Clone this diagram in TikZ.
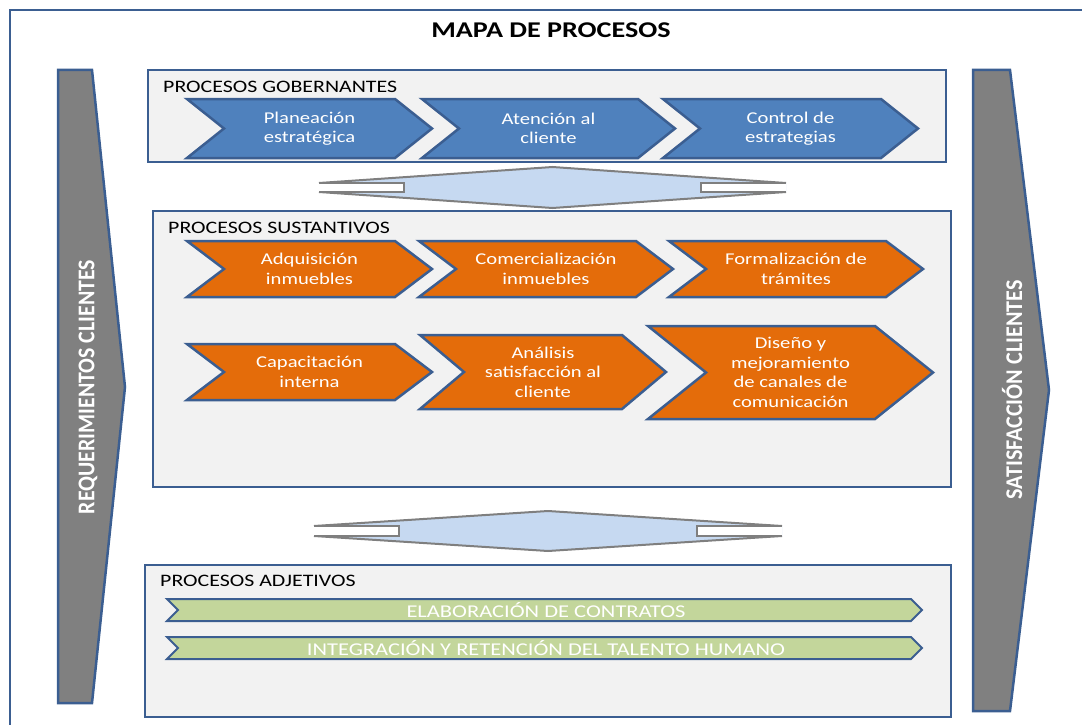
\documentclass[tikz,border=0pt]{standalone}
\usepackage{fontspec}
\setmainfont{Carlito}
\newfontfamily\widefont{Carlito}[FakeStretch=1.25]
\usetikzlibrary{calc}

\definecolor{edgeblue}{HTML}{3B5E91}
\definecolor{panelfill}{HTML}{F2F2F2}
\definecolor{govblue}{HTML}{4F81BD}
\definecolor{subsorange}{HTML}{E46C0A}
\definecolor{adjgreen}{HTML}{C3D69B}
\definecolor{sidegray}{HTML}{808080}
\definecolor{linkfill}{HTML}{C6D9F1}
\definecolor{linkline}{HTML}{7F7F7F}

% chevron: #1 name, #2 left x, #3 tip x, #4 top y, #5 bottom y, #6 point depth, #7 style, #8 text
\newcommand\chevron[8]{%
  \path[#7] (#2,#4) -- ({#3-#6},#4) -- (#3,{(#4+#5)/2}) -- ({#3-#6},#5)
    -- (#2,#5) -- ({#2+#6},{(#4+#5)/2}) -- cycle;
  \node[chevtext] (#1) at ({(#2+#3)/2},{(#4+#5)/2}) {#8};
}
% double-headed link between panels: #1 left x, #2 right x, #3 mid y,
% #4 half shaft height, #5 half total height, #6 shaft end length
\newcommand\panellink[6]{%
  \fill[linkfill] (#1,{#3-#4}) -- ({(#1+#2)/2},{#3-#5}) -- (#2,{#3-#4})
    -- (#2,{#3+#4}) -- ({(#1+#2)/2},{#3+#5}) -- (#1,{#3+#4}) -- cycle;
  \draw[linkstroke] (#1,{#3-#4}) -- ({(#1+#2)/2},{#3-#5}) -- (#2,{#3-#4});
  \draw[linkstroke] (#1,{#3+#4}) -- ({(#1+#2)/2},{#3+#5}) -- (#2,{#3+#4});
  \filldraw[linkstroke,fill=white] (#1,{#3-#4}) -- ({#1+#6},{#3-#4}) -- ({#1+#6},{#3+#4}) -- (#1,{#3+#4});
  \filldraw[linkstroke,fill=white] (#2,{#3-#4}) -- ({#2-#6},{#3-#4}) -- ({#2-#6},{#3+#4}) -- (#2,{#3+#4});
}

\begin{document}
\begin{tikzpicture}[x=1pt,y=-1pt,
  panel/.style={draw=edgeblue,fill=panelfill,line width=2.5pt},
  paneltitle/.style={anchor=west,inner sep=0pt,font=\widefont\fontsize{17.5}{19}\selectfont},
  sidearrow/.style={draw=edgeblue,fill=sidegray,line width=2.5pt,line join=miter},
  sidetext/.style={rotate=90,text=white,font=\bfseries\fontsize{24}{26}\selectfont},
  govchev/.style={draw=edgeblue,fill=govblue,line width=2.5pt},
  subchev/.style={draw=edgeblue,fill=subsorange,line width=2.5pt},
  adjchev/.style={draw=edgeblue,fill=adjgreen,line width=2pt},
  chevtext/.style={text=white,align=center,inner sep=0pt,
    font=\widefont\fontsize{16.5}{19.5}\selectfont},
  adjtext/.style={text=white,inner sep=0pt,font=\widefont\fontsize{18}{20}\selectfont},
  linkstroke/.style={draw=linkline,line width=2pt}]

\useasboundingbox (0,0) rectangle (1082,725);
\begin{scope}
\clip (0,0) rectangle (1082,725);
\draw[edgeblue,line width=2pt] (10,10) rectangle (1100,745);
\end{scope}

\node[font=\widefont\bfseries\fontsize{22.5}{26}\selectfont] (title) at (551,30) {MAPA DE PROCESOS};

% side arrows
\path[sidearrow] (58,70) -- (92,70) -- (125,387) -- (92,703) -- (58,703) -- cycle;
\node[sidetext] (req) at (88,387) {\scalebox{0.91}[1]{REQUERIMIENTOS CLIENTES}};
\path[sidearrow] (973,70) -- (1010,70) -- (1049,390) -- (1010,711) -- (973,711) -- cycle;
\node[sidetext] (sat) at (1012,390) {\scalebox{0.92}[1]{SATISFACCIÓN CLIENTES}};

% governing processes
\path[panel] (148,70) rectangle (946,162);
\node[paneltitle] (govtitle) at (163,87) {PROCESOS GOBERNANTES};
\chevron{plan}{187}{432}{99}{158}{37}{govchev}{Planeación\\estratégica}
\chevron{aten}{422}{675}{99}{158}{37}{govchev}{Atención al\\cliente}
\chevron{ctrl}{663}{918}{99}{158}{37}{govchev}{Control de\\estrategias}

\panellink{319}{786}{187.5}{4.5}{20.5}{85}

% core processes
\path[panel] (153,211) rectangle (951,487);
\node[paneltitle] (subtitle) at (168,228) {PROCESOS SUSTANTIVOS};
\chevron{adq}{187}{432}{241}{297}{37}{subchev}{Adquisición\\inmuebles}
\chevron{com}{419}{673}{241}{297}{37}{subchev}{Comercialización\\inmuebles}
\chevron{form}{669}{923}{241}{297}{37}{subchev}{Formalización de\\trámites}
\chevron{cap}{187}{432}{344}{400}{37}{subchev}{Capacitación\\interna}
\chevron{anal}{420}{666}{335}{409}{44}{subchev}{Análisis\\satisfacción al\\cliente}
\chevron{dise}{648}{933}{326}{419}{58}{subchev}{Diseño y\\mejoramiento\\de canales de\\comunicación}

\panellink{314}{782}{531}{5}{20}{85}

% supporting processes
\path[panel] (145,565) rectangle (951,717);
\node[paneltitle] (adjtitle) at (160,581) {PROCESOS ADJETIVOS};
\path[adjchev] (167,599) -- (911,599) -- (922,610) -- (911,621) -- (167,621) -- (178,610) -- cycle;
\node[adjtext] (contr) at (546,610) {ELABORACIÓN DE CONTRATOS};
\path[adjchev] (167,637) -- (911,637) -- (922,648) -- (911,659) -- (167,659) -- (178,648) -- cycle;
\node[adjtext] (talen) at (546,648) {INTEGRACIÓN Y RETENCIÓN DEL TALENTO HUMANO};

\end{tikzpicture}
\end{document}
